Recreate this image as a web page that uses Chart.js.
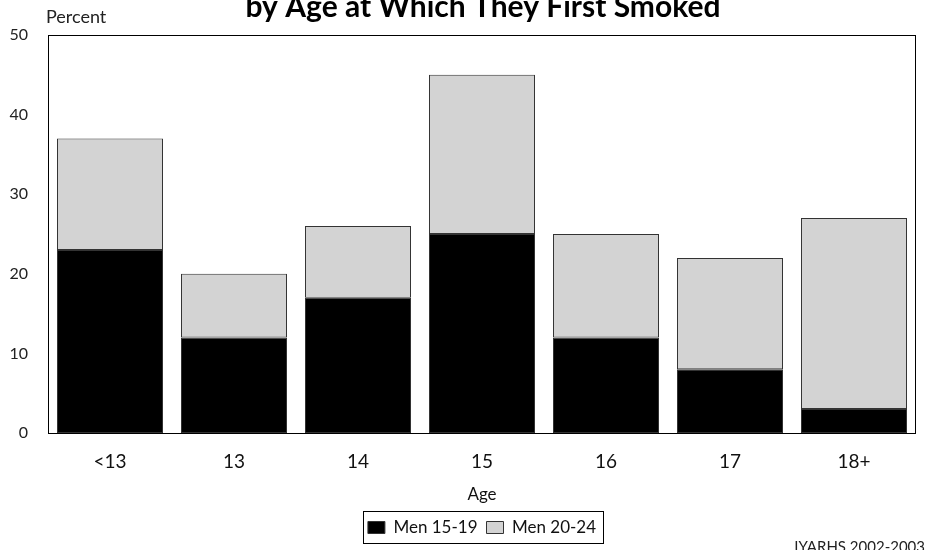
<!DOCTYPE html>
<html>
<head>
<meta charset="utf-8">
<script src="https://cdn.jsdelivr.net/npm/chart.js@4/dist/chart.umd.min.js"></script>
<style>
  html, body { margin: 0; padding: 0; background: #fff; }
  #wrap { width: 926px; height: 550px; position: relative; }
</style>
</head>
<body>
<div id="wrap"><canvas id="c" width="926" height="550"></canvas></div>
<script>
const categories = ["<13", "13", "14", "15", "16", "17", "18+"];
const men1519 = [23, 12, 17, 25, 12, 8, 3];
const men2024 = [14, 8, 9, 20, 13, 14, 24];
const yTicks = [0, 10, 20, 30, 40, 50];
const titleText = "by Age at Which They First Smoked";
const yAxisLabel = "Percent";
const xAxisLabel = "Age";
const sourceText = "IYARHS 2002-2003";

const FONT = "Lato, 'Open Sans', sans-serif";

const decor = {
  id: 'decor',
  beforeDraw(chart) {
    const lg = chart.legend;
    const a = chart.chartArea;
    if (lg) {
      const delta = (a.left + a.right) / 2 - (lg.left + lg.right) / 2;
      lg.left += delta;
      lg.right += delta;
      (lg.legendHitBoxes || []).forEach(h => { h.left += delta; });
    }
  },
  afterDraw(chart) {
    const ctx = chart.ctx;
    const a = chart.chartArea;
    ctx.save();
    // frame
    ctx.strokeStyle = '#000';
    ctx.lineWidth = 1;
    ctx.strokeRect(Math.round(a.left) + 0.5, Math.round(a.top) + 0.5,
                   Math.round(a.right - a.left) - 1, Math.round(a.bottom - a.top));
    // title
    ctx.fillStyle = '#000';
    ctx.font = "bold 30px " + FONT;
    ctx.textAlign = 'center';
    ctx.textBaseline = 'alphabetic';
    ctx.fillText(titleText, 483, 17);
    // y label
    ctx.font = "18px " + FONT;
    ctx.textAlign = 'left';
    ctx.fillStyle = '#222';
    ctx.fillText(yAxisLabel, 46, 23);
    // source
    ctx.textAlign = 'right';
    ctx.font = "15px " + FONT;
    ctx.fillText(sourceText, 925, 552);
    // legend frame
    const boxes = chart.legend && chart.legend.legendHitBoxes;
    if (boxes && boxes.length) {
      let l = Infinity, r = -Infinity, t = Infinity, b = -Infinity;
      boxes.forEach(h => { l = Math.min(l, h.left); r = Math.max(r, h.left + h.width); t = Math.min(t, h.top); b = Math.max(b, h.top + h.height); });
      ctx.strokeStyle = '#000';
      ctx.lineWidth = 1;
      ctx.strokeRect(Math.round(l) - 4.5, Math.round(t) - 7.5, Math.round(r - l) + 12, Math.round(b - t) + 15);
    }
    ctx.restore();
  }
};

new Chart(document.getElementById('c'), {
  type: 'bar',
  data: {
    labels: categories,
    datasets: [
      { label: 'Men 15-19', data: men1519, backgroundColor: '#000000', borderColor: '#333333', borderWidth: 1, borderSkipped: false },
      { label: 'Men 20-24', data: men2024, backgroundColor: '#d3d3d3', borderColor: '#333333', borderWidth: 1, borderSkipped: false }
    ]
  },
  options: {
    responsive: false,
    animation: false,
    devicePixelRatio: 1,
    layout: { padding: { top: 35, left: 0, right: 10, bottom: 4 } },
    datasets: { bar: { barPercentage: 0.855, categoryPercentage: 1.0 } },
    plugins: {
      title: { display: false },
      tooltip: { enabled: false },
      legend: {
        display: true,
        position: 'bottom',
        labels: {
          color: '#111',
          font: { family: FONT, size: 17 },
          boxWidth: 17,
          boxHeight: 12,
          padding: 9
        }
      }
    },
    scales: {
      x: {
        stacked: true,
        grid: { display: false, drawTicks: false },
        border: { display: false },
        afterFit(scale) { scale.height = 77; },
        ticks: { color: '#111', font: { family: FONT, size: 19 }, padding: 17 },
        title: { display: true, text: xAxisLabel, color: '#111', font: { family: FONT, size: 17 }, padding: { top: 10, bottom: 5 } }
      },
      y: {
        stacked: true,
        min: 0, max: 50,
        afterBuildTicks(scale) { scale.ticks = yTicks.map(v => ({ value: v })); },
        afterFit(scale) { scale.width = 48; },
        grid: { display: false, drawTicks: false },
        border: { display: false },
        ticks: { color: '#222', font: { family: FONT, size: 16 }, padding: 20 }
      }
    }
  },
  plugins: [decor]
});
</script>
</body>
</html>
